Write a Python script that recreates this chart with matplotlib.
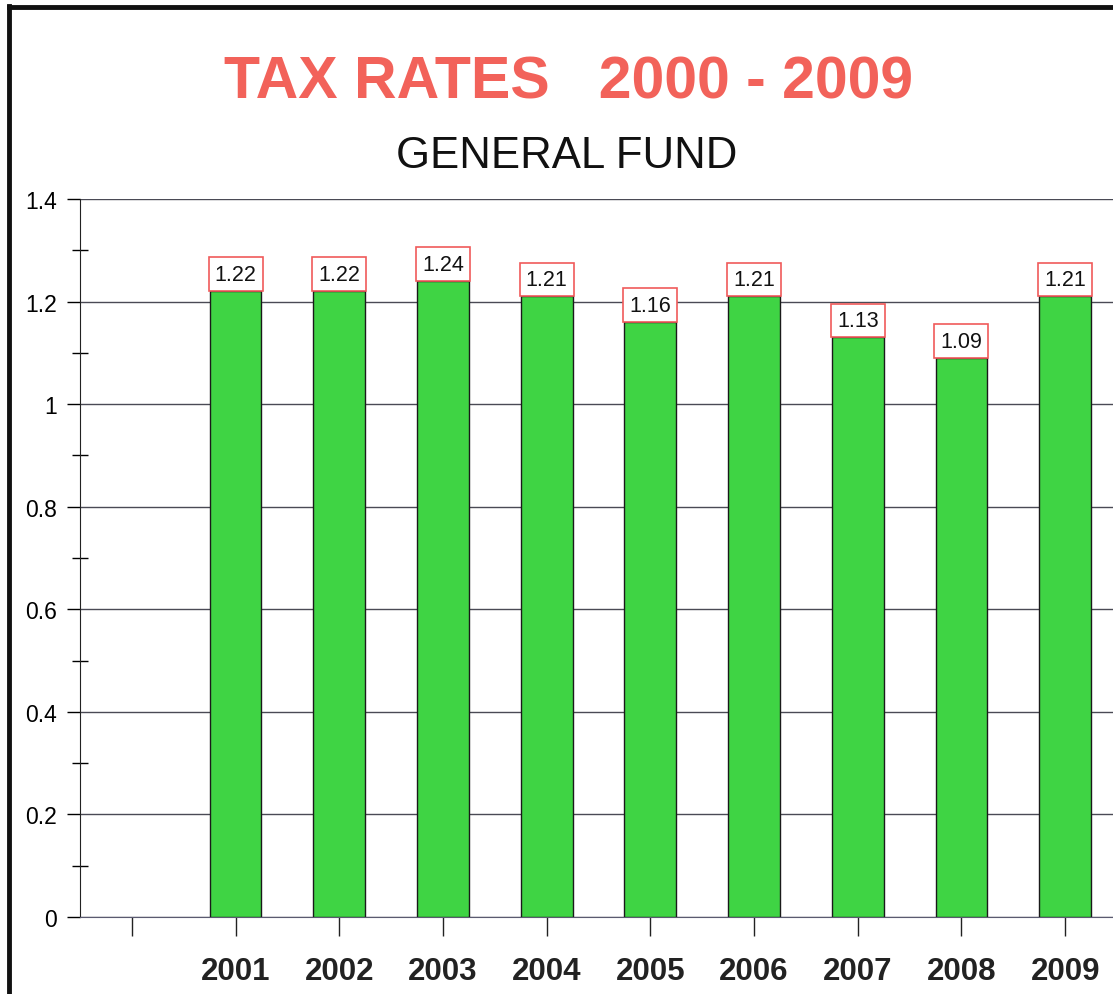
import matplotlib.pyplot as plt
from matplotlib.patches import Rectangle
import numpy as np

# data (2000 has no bar)
years = ['', '2001', '2002', '2003', '2004', '2005', '2006', '2007', '2008', '2009']
rates = [np.nan, 1.22, 1.22, 1.24, 1.21, 1.16, 1.21, 1.13, 1.09, 1.21]
yticks = [0, 0.2, 0.4, 0.6, 0.8, 1, 1.2, 1.4]
ytick_labels = ['0', '0.2', '0.4', '0.6', '0.8', '1', '1.2', '1.4']

plt.rcParams['font.family'] = ['Liberation Sans', 'DejaVu Sans']

fig = plt.figure(figsize=(11.13, 9.95), dpi=100)
ax = fig.add_axes([0.0719, 0.0774, 0.9317, 0.7216])

x = np.arange(len(years))
ax.bar(x, rates, width=0.5, color='#3fd444', edgecolor='#1a1a1a', linewidth=1, zorder=3)

# value labels in red framed boxes sitting on top of the bars
box_h = 0.066
for xi, v in zip(x, rates):
    if np.isnan(v):
        continue
    ax.add_patch(Rectangle((xi - 0.26, v), 0.52, box_h, facecolor='white',
                           edgecolor='#f05a5a', linewidth=1.2, zorder=4))
    ax.text(xi, v + box_h / 2, f'{v:.2f}', ha='center', va='center',
            fontsize=15.5, color='#111111', zorder=5)

ax.set_xlim(-0.5, 9.5)
ax.set_ylim(0, 1.4)
ax.set_xticks(x)
ax.set_xticklabels(years, fontsize=22.5, fontweight='bold')
ax.set_yticks(yticks)
ax.set_yticklabels(ytick_labels, fontsize=16.5)
ax.set_yticks(np.arange(0.1, 1.4, 0.2), minor=True)

ax.tick_params(axis='x', direction='out', length=14, width=1, pad=14, colors='#222222')
ax.tick_params(axis='y', which='major', direction='out', length=9.5, width=1, pad=7)
ax.tick_params(axis='y', which='minor', direction='inout', length=11, width=1)

ax.grid(axis='y', color='#4a4a55', linewidth=1, zorder=0)
ax.set_axisbelow(True)
for s in ['top', 'right']:
    ax.spines[s].set_visible(False)
ax.spines['left'].set_color('#222222')
ax.spines['bottom'].set_color('#5a5a70')

fig.text(0.511, 0.917, 'TAX RATES   2000 - 2009', ha='center', va='center',
         fontsize=42.5, fontweight='bold', color='#f2625a')
fig.text(0.509, 0.843, 'GENERAL FUND', ha='center', va='center',
         fontsize=31.5, color='#111111')

# scanned frame around the page
fig.add_artist(plt.Line2D([0.0085, 0.0085], [0.0, 0.993], transform=fig.transFigure,
                          color='#111111', linewidth=3.5))
fig.add_artist(plt.Line2D([0.0085, 1.0], [0.992, 0.992], transform=fig.transFigure,
                          color='#111111', linewidth=3.5))

fig.savefig('out.png', dpi=100)
